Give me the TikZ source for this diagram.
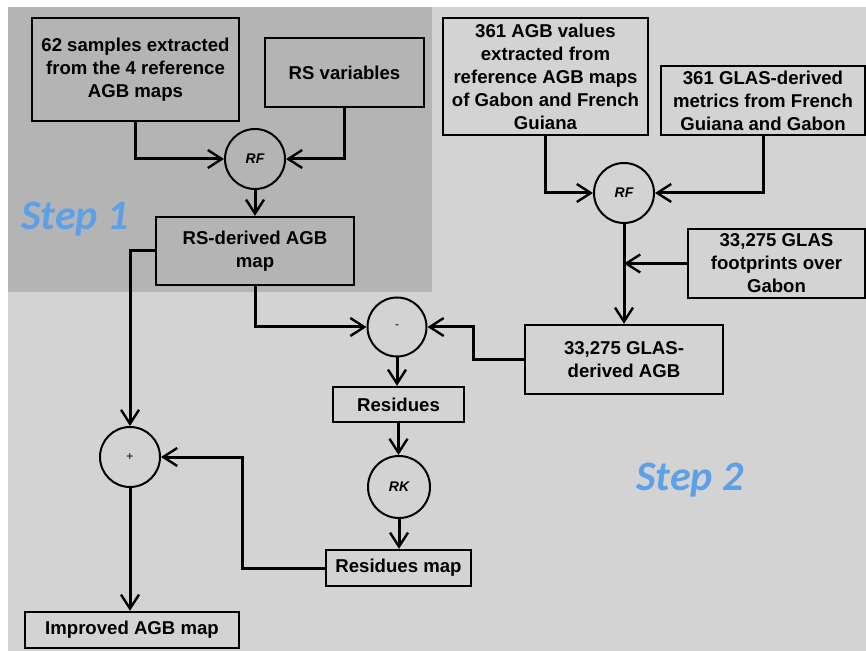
\documentclass[tikz,border=0pt]{standalone}
\usepackage{fontspec}
\setmainfont{Liberation Sans}
\newfontfamily\stepfont{Carlito}
\usetikzlibrary{arrows.meta}

\definecolor{bgdark}{RGB}{180,180,180}
\definecolor{bglight}{RGB}{211,211,211}
\definecolor{stepblue}{RGB}{92,160,232}

\tikzset{
  box/.style={draw, line width=1.2pt, inner sep=0pt, align=center,
    font=\fontsize{9.3}{11.5}\selectfont\bfseries},
  op/.style={draw, circle, line width=1pt, inner sep=0pt, minimum size=30pt},
  arr/.style={line width=1.5pt, -{Straight Barb[length=7pt,width=9pt,line width=1.2pt]}},
  steplabel/.style={text=stepblue, font=\stepfont\fontsize{21}{21}\selectfont\bfseries\itshape}
}

\begin{document}
\begin{tikzpicture}[x=0.5pt, y=-0.5pt]

% Background
\useasboundingbox (0,0) rectangle (866,651);
\fill[white] (0,0) rectangle (866,651);
\fill[bglight] (8,7) rectangle (866,651);
\fill[bgdark] (8,7) rectangle (432,292);

\node[steplabel] (step1) at (75,219) {Step 1};
\node[steplabel] (step2) at (690,480) {Step 2};

% Step 1: RF on reference samples
\node[box, minimum width=103.5pt, minimum height=51.5pt] (samples) at (135.5,69.5)
  {62 samples extracted\\from the 4 reference\\AGB maps};
\node[box, minimum width=79.5pt, minimum height=34.5pt] (rsvar) at (344.5,72.5) {RS variables};
\node[op] (rf1) at (255,159) {\fontsize{7}{7}\selectfont\bfseries\itshape RF};
\node[box, minimum width=99pt, minimum height=34pt] (rsagb) at (255,251) {RS-derived AGB\\map};

% Step 2: GLAS-derived AGB
\node[box, minimum width=102.5pt, minimum height=58.5pt] (agbval) at (545.5,76.5)
  {361 AGB values\\extracted from\\reference AGB maps\\of Gabon and French\\Guiana};
\node[box, minimum width=102pt, minimum height=34.5pt] (glasmet) at (763,100.5)
  {361 GLAS-derived\\metrics from French\\Guiana and Gabon};
\node[op] (rf2) at (624,193) {\fontsize{7}{7}\selectfont\bfseries\itshape RF};
\node[box, minimum width=88.5pt, minimum height=34.5pt] (footprints) at (776.5,263.5)
  {33,275 GLAS\\footprints over\\Gabon};
\node[box, minimum width=99pt, minimum height=34.5pt] (glasagb) at (624,359.5)
  {33,275 GLAS-\\derived AGB};

% Residues and kriging
\node[op, minimum size=29.5pt] (minus) at (397,327) {\fontsize{6}{6}\selectfont -};
\node[box, minimum width=65.5pt, minimum height=17.5pt] (residues) at (398.5,404.5) {Residues};
\node[op, minimum size=31pt] (rk) at (399,487) {\fontsize{7}{7}\selectfont\bfseries\itshape RK};
\node[box, minimum width=72.5pt, minimum height=18pt] (resmap) at (398.5,568) {Residues map};
\node[op] (plus) at (130,457) {\fontsize{6}{6}\selectfont +};
\node[box, minimum width=107pt, minimum height=18pt] (improved) at (132,630) {Improved AGB map};

% Connectors
\draw[arr] (samples.south) |- (rf1.west);
\draw[arr] (rsvar.south) |- (rf1.east);
\draw[arr] (rf1) -- (rsagb);
\draw[arr] (agbval.south) |- (rf2.west);
\draw[arr] (glasmet.south) |- (rf2.east);
\draw[arr] (rf2) -- (glasagb);
\coordinate (join) at (rf2.south |- footprints.west);
\draw[arr] (footprints.west) -- (join);
\draw[arr] (rsagb.south) |- (minus.west);
\draw[arr] (glasagb.west) -- ++(-50,0) |- (minus.east);
\draw[arr] (minus.south) -- (minus.south |- residues.north);
\draw[arr] (residues.south) -- (residues.south |- rk.north);
\draw[arr] (rk.south) -- (rk.south |- resmap.north);
\draw[arr] (rsagb.west) -| (plus.north);
\draw[arr] (resmap.west) -- ++(-82,0) |- (plus.east);
\draw[arr] (plus.south) -- (plus.south |- improved.north);

\end{tikzpicture}
\end{document}
